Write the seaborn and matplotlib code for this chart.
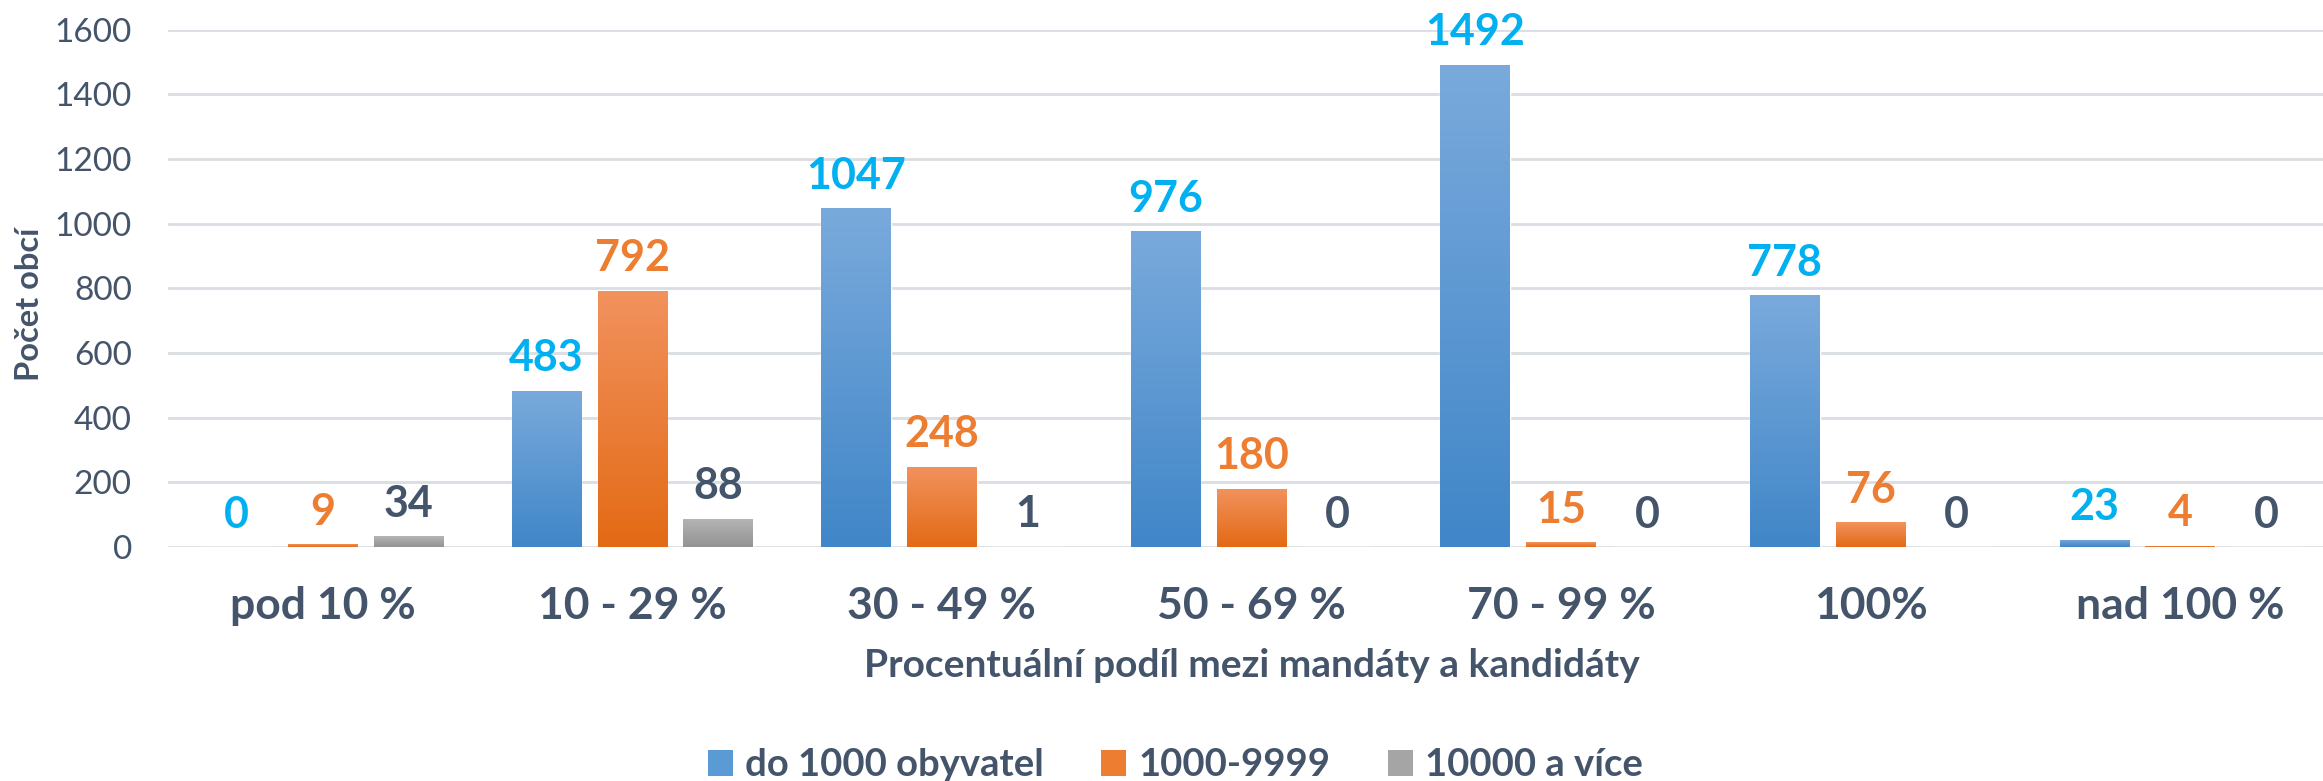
import numpy as np
import pandas as pd
import matplotlib.pyplot as plt
import seaborn as sns
from matplotlib.colors import LinearSegmentedColormap
from matplotlib.patches import Patch

categories = ["pod 10 %", "10 - 29 %", "30 - 49 %", "50 - 69 %", "70 - 99 %", "100%", "nad 100 %"]
series = ["do 1000 obyvatel", "1000-9999", "10000 a více"]
do_1000 = [0, 483, 1047, 976, 1492, 778, 23]
od_1000_do_9999 = [9, 792, 248, 180, 15, 76, 4]
nad_10000 = [34, 88, 1, 0, 0, 0, 0]
yticks = list(range(0, 1601, 200))

df = pd.DataFrame({
    "kategorie": categories * 3,
    "velikost": [series[0]] * 7 + [series[1]] * 7 + [series[2]] * 7,
    "pocet": do_1000 + od_1000_do_9999 + nad_10000,
})

text_col = "#44546A"
palette = ["#5B9BD5", "#ED7D31", "#A5A5A5"]
gradients = [("#7AAADC", "#4086C8"), ("#F2925E", "#E36A15"), ("#B5B5B5", "#939393")]
label_cols = ["#00B0F0", "#ED7D31", "#44546A"]

sns.set_style("white")
plt.rcParams["font.family"] = ["Lato", "DejaVu Sans"]

fig = plt.figure(figsize=(23.23, 7.81), dpi=100)
ax = fig.add_axes([0.0723, 0.2996, 0.9329, 0.6625])

sns.barplot(data=df, x="kategorie", y="pocet", hue="velikost", order=categories,
            hue_order=series, palette=palette, width=0.8325, gap=0.19,
            errorbar=None, saturation=1, ax=ax, legend=False, zorder=2)

# gradient fill inside each bar (light top -> darker bottom)
grad = np.linspace(1, 0, 256).reshape(-1, 1)
for cont, (top, bottom), lc in zip(ax.containers, gradients, label_cols):
    cmap = LinearSegmentedColormap.from_list("g", [bottom, top])
    for bar in cont:
        x0, y0 = bar.get_x(), bar.get_y()
        w, h = bar.get_width(), bar.get_height()
        if h <= 0:
            continue
        im = ax.imshow(grad, cmap=cmap, aspect="auto", extent=(x0, x0 + w, y0, y0 + h),
                       origin="upper", interpolation="bicubic", zorder=3)
        im.set_clip_path(bar)
    ax.bar_label(cont, fmt="%d", padding=9, color=lc, fontsize=31, fontweight="bold", zorder=4)

ax.set_xlim(-0.5, 6.5)
ax.set_ylim(0, 1600)
ax.set_yticks(yticks)
ax.yaxis.grid(True, color="#D9DEE4", linewidth=2, zorder=0)
ax.xaxis.grid(False)
for s in ax.spines.values():
    s.set_visible(False)

ax.tick_params(axis="y", length=0, pad=26, labelsize=24, labelcolor=text_col)
ax.tick_params(axis="x", length=0, pad=28, labelsize=32, labelcolor=text_col)
for t in ax.get_xticklabels():
    t.set_fontweight("bold")

ax.set_xlabel("Procentuální podíl mezi mandáty a kandidáty", fontsize=28,
              fontweight="bold", color=text_col)
ax.xaxis.set_label_coords(0.5, -0.195)
ax.set_ylabel("Počet obcí", fontsize=23.5, fontweight="bold", color=text_col)
ax.yaxis.set_label_coords(-0.057, 0.47)

handles = [Patch(facecolor=c, edgecolor="none") for c in palette]
fig.legend(handles, series, loc="center", bbox_to_anchor=(0.506, 0.02), ncol=3,
           frameon=False, prop={"size": 27.5, "weight": "bold"}, labelcolor=text_col,
           handlelength=0.65, handleheight=0.65, handletextpad=0.33, columnspacing=1.5)

fig.savefig("out.png", dpi=100)
